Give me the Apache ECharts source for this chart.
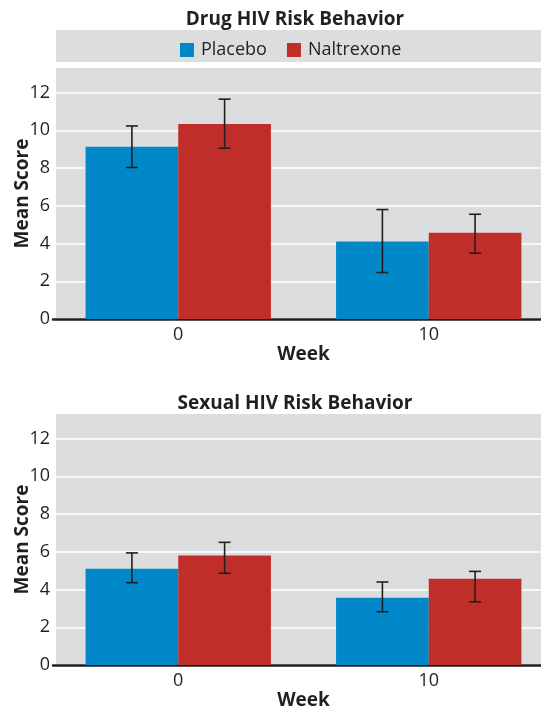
<!DOCTYPE html>
<html>
<head>
<meta charset="utf-8">
<script src="https://cdn.jsdelivr.net/npm/echarts@6/dist/echarts.min.js"></script>
<style>
  html, body { margin: 0; padding: 0; background: #fff; }
  #chart { width: 541px; height: 706px; }
</style>
</head>
<body>
<div id="chart"></div>
<script>
const weeks = ['0', '10'];
const seriesNames = ['Placebo', 'Naltrexone'];

// Drug HIV risk behavior: means and error bar ends
const drugPlacebo = [9.13, 4.1];
const drugPlaceboLow = [8.03, 2.46];
const drugPlaceboHigh = [10.23, 5.8];
const drugNaltrexone = [10.33, 4.57];
const drugNaltrexoneLow = [9.05, 3.49];
const drugNaltrexoneHigh = [11.65, 5.55];

// Sexual HIV risk behavior
const sexPlacebo = [5.1, 3.56];
const sexPlaceboLow = [4.36, 2.82];
const sexPlaceboHigh = [5.94, 4.4];
const sexNaltrexone = [5.8, 4.57];
const sexNaltrexoneLow = [4.86, 3.35];
const sexNaltrexoneHigh = [6.5, 4.96];

const yTicks = [0, 2, 4, 6, 8, 10, 12];

const BLUE = '#0088c9';
const RED = '#c02e29';
const PANEL = '#dcdddf';
const INK = '#231f20';
const FONT = 'Open Sans';
const BAR_FRAC = 0.37;

const chart = echarts.init(document.getElementById('chart'));

function errorSeries(gridIdx, low, high, side) {
  return {
    type: 'custom',
    name: 'err' + gridIdx + side,
    xAxisIndex: gridIdx,
    yAxisIndex: gridIdx,
    z: 5,
    silent: true,
    data: low.map((l, i) => [i, l, high[i]]),
    renderItem: (params, api) => {
      const i = api.value(0);
      const band = api.size([1, 0])[0];
      const off = side * band * BAR_FRAC / 2;
      const lo = api.coord([i, api.value(1)]);
      const hi = api.coord([i, api.value(2)]);
      const x = lo[0] + off;
      const cap = 6;
      const style = { stroke: INK, lineWidth: 1.6 };
      return {
        type: 'group',
        children: [
          { type: 'line', shape: { x1: x, y1: lo[1], x2: x, y2: hi[1] }, style },
          { type: 'line', shape: { x1: x - cap, y1: lo[1], x2: x + cap, y2: lo[1] }, style },
          { type: 'line', shape: { x1: x - cap, y1: hi[1], x2: x + cap, y2: hi[1] }, style }
        ]
      };
    }
  };
}

function barSeries(gridIdx, name, data, color) {
  return {
    type: 'bar',
    name,
    xAxisIndex: gridIdx,
    yAxisIndex: gridIdx,
    data,
    barWidth: (BAR_FRAC * 100) + '%',
    barGap: '0%',
    itemStyle: { color },
    z: 3
  };
}

function xAxis(gridIdx) {
  return {
    type: 'category',
    gridIndex: gridIdx,
    data: weeks,
    name: 'Week',
    nameLocation: 'middle',
    nameGap: 25,
    nameTextStyle: { fontFamily: FONT, fontWeight: 'bold', fontSize: 19, color: INK },
    axisLine: { show: true, lineStyle: { color: INK, width: 2.5 } },
    axisTick: { show: false },
    axisLabel: { fontFamily: FONT, fontSize: 18, color: INK, margin: 7 }
  };
}

function yAxis(gridIdx) {
  return {
    type: 'value',
    gridIndex: gridIdx,
    min: 0,
    max: 13.3,
    interval: 2,
    name: 'Mean Score',
    nameLocation: 'middle',
    nameGap: 21,
    nameMoveOverlap: false,
    nameTextStyle: { fontFamily: FONT, fontWeight: 'bold', fontSize: 19, color: INK },
    axisLine: { show: false },
    axisTick: { show: false },
    axisLabel: {
      fontFamily: FONT, fontSize: 18, color: INK, margin: 3,
      formatter: v => (yTicks.includes(v) ? String(v) : '')
    },
    splitLine: { show: true, showMaxLine: false, lineStyle: { color: '#ffffff', width: 1.5 } }
  };
}

const gridLeft = 53;
const gridWidth = 501;

chart.setOption({
  animation: false,
  backgroundColor: '#ffffff',
  graphic: [
    { type: 'rect', z: -10, shape: { x: 56, y: 30, width: 485, height: 32 }, style: { fill: PANEL } },
    { type: 'rect', z: -10, shape: { x: 56, y: 68, width: 485, height: 251 }, style: { fill: PANEL } },
    { type: 'rect', z: -10, shape: { x: 56, y: 414, width: 485, height: 251 }, style: { fill: PANEL } }
  ],
  title: [
    {
      text: 'Drug HIV Risk Behavior',
      left: 290, top: 5, textAlign: 'center',
      textStyle: { fontFamily: FONT, fontWeight: 'bold', fontSize: 19, color: INK }
    },
    {
      text: 'Sexual HIV Risk Behavior',
      left: 290, top: 389, textAlign: 'center',
      textStyle: { fontFamily: FONT, fontWeight: 'bold', fontSize: 19, color: INK }
    }
  ],
  legend: {
    data: seriesNames,
    left: 175,
    top: 36,
    itemWidth: 14,
    itemHeight: 14,
    itemGap: 20,
    icon: 'rect',
    textStyle: { fontFamily: FONT, fontSize: 18, color: INK, padding: [0, 0, 0, 2] }
  },
  grid: [
    { left: gridLeft, width: gridWidth, top: 68, height: 251, outerBoundsMode: 'none' },
    { left: gridLeft, width: gridWidth, top: 414, height: 251, outerBoundsMode: 'none' }
  ],
  xAxis: [xAxis(0), xAxis(1)],
  yAxis: [yAxis(0), yAxis(1)],
  series: [
    barSeries(0, 'Placebo', drugPlacebo, BLUE),
    barSeries(0, 'Naltrexone', drugNaltrexone, RED),
    errorSeries(0, drugPlaceboLow, drugPlaceboHigh, -1),
    errorSeries(0, drugNaltrexoneLow, drugNaltrexoneHigh, 1),
    barSeries(1, 'Placebo', sexPlacebo, BLUE),
    barSeries(1, 'Naltrexone', sexNaltrexone, RED),
    errorSeries(1, sexPlaceboLow, sexPlaceboHigh, -1),
    errorSeries(1, sexNaltrexoneLow, sexNaltrexoneHigh, 1)
  ]
});
</script>
</body>
</html>
